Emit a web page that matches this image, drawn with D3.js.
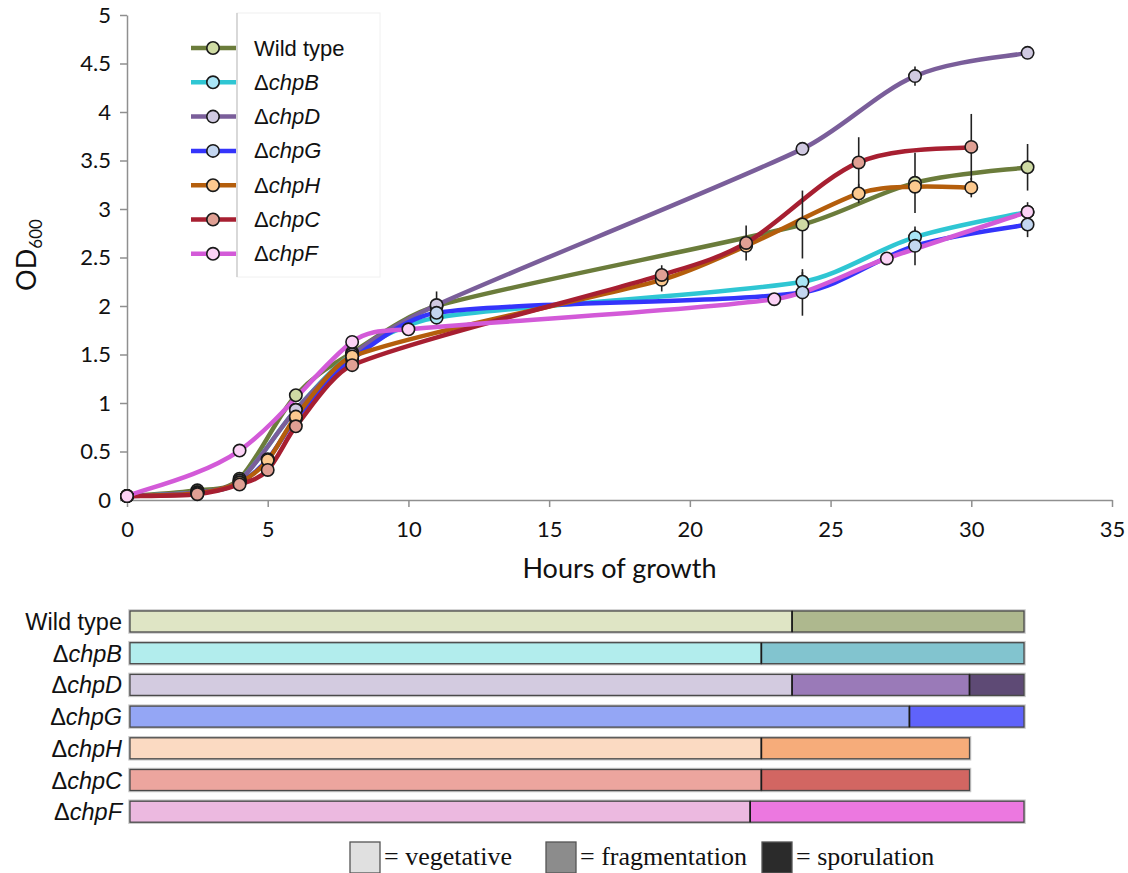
<!DOCTYPE html>
<html><head><meta charset="utf-8">
<script src="https://cdn.jsdelivr.net/npm/d3@7"></script>
<style>body{margin:0;background:#fff} svg{display:block}</style>
</head><body>
<svg id="chart" width="1128" height="873"></svg>
<script>
// Strain names (legend order = drawing order)
const strains = ["Wild type", "ΔchpB", "ΔchpD", "ΔchpG", "ΔchpH", "ΔchpC", "ΔchpF"];

// Growth curves: hours, OD600 and error (0 = no bar)
const hoursWT = [0, 2.5, 4, 6, 8, 11, 24, 28, 32];
const odWT    = [0.04, 0.10, 0.22, 1.08, 1.52, 2.00, 2.84, 3.27, 3.43];
const errWT   = [0, 0, 0, 0, 0, 0, 0.35, 0.31, 0.24];

const hoursB = [0, 2.5, 4, 6, 8, 11, 24, 28, 32];
const odB    = [0.04, 0.08, 0.20, 0.93, 1.50, 1.88, 2.25, 2.71, 2.97];
const errB   = [0, 0, 0, 0, 0, 0, 0.10, 0.08, 0.05];

const hoursD = [0, 2.5, 4, 6, 8, 11, 24, 28, 32];
const odD    = [0.04, 0.08, 0.20, 0.93, 1.50, 2.01, 3.62, 4.37, 4.61];
const errD   = [0, 0, 0, 0, 0, 0.14, 0.03, 0.10, 0.03];

const hoursG = [0, 2.5, 4, 5, 6, 8, 11, 24, 28, 32];
const odG    = [0.04, 0.07, 0.18, 0.42, 0.84, 1.45, 1.93, 2.14, 2.62, 2.84];
const errG   = [0, 0, 0, 0, 0, 0, 0, 0.24, 0.20, 0.13];

const hoursH = [0, 2.5, 4, 5, 6, 8, 19, 22, 26, 28, 30];
const odH    = [0.04, 0.07, 0.18, 0.41, 0.86, 1.48, 2.27, 2.62, 3.16, 3.23, 3.22];
const errH   = [0, 0, 0, 0, 0, 0, 0.12, 0, 0.10, 0, 0.10];

const hoursC = [0, 2.5, 4, 5, 6, 8, 19, 22, 26, 30];
const odC    = [0.04, 0.06, 0.16, 0.31, 0.76, 1.39, 2.32, 2.65, 3.48, 3.64];
const errC   = [0, 0, 0, 0, 0, 0, 0.10, 0.18, 0.26, 0.34];

const hoursF = [0, 4, 8, 10, 23, 27, 32];
const odF    = [0.04, 0.51, 1.63, 1.76, 2.07, 2.49, 2.97];
const errF   = [0, 0, 0.05, 0, 0, 0.06, 0.10];

// Axis ticks
const xTicks = [0, 5, 10, 15, 20, 25, 30, 35];
const yTicks = [0, 0.5, 1, 1.5, 2, 2.5, 3, 3.5, 4, 4.5, 5];

// Developmental phases (hours at which each phase ends)
const vegetativeEnd    = [23.7, 22.6, 23.7, 27.9, 22.6, 22.6, 22.2];
const fragmentationEnd = [32, 32, 30.05, 32, 30.05, 30.05, 32];
const sporulationEnd   = [null, null, 32, null, null, null, null];
const phaseNames = ["= vegetative", "= fragmentation", "= sporulation"];

// Styling
const lineColors   = ["#6b7c3b", "#2fc6d3", "#7a5e9a", "#3434fb", "#b45e0c", "#a71f31", "#d35ad8"];
const markerColors = ["#cfdba4", "#a9e5f6", "#d0c9e1", "#c3d6f0", "#fcc98f", "#e0a094", "#fcd3f6"];
const vegColors    = ["#dfe5c5", "#b2eded", "#d3cbe0", "#94a6f5", "#fbdac2", "#eca59e", "#ecb9e0"];
const fragColors   = ["#aeb88e", "#82c4cf", "#9a7ab8", "#5f63fb", "#f6ac7a", "#d26662", "#ec78e0"];
const sporColors   = [null, null, "#5e4a75", null, null, null, null];
const phaseKeyColors = ["#e0e0e0", "#8c8c8c", "#2b2b2b"];

const seriesHours = [hoursWT, hoursB, hoursD, hoursG, hoursH, hoursC, hoursF];
const seriesOD    = [odWT, odB, odD, odG, odH, odC, odF];
const seriesErr   = [errWT, errB, errD, errG, errH, errC, errF];

const series = strains.map((name, i) => ({
  name, i,
  pts: seriesHours[i].map((h, k) => ({h, v: seriesOD[i][k], e: seriesErr[i][k]}))
}));

const svg = d3.select("#chart");
const axisFont = "Lato, 'Open Sans', sans-serif";
const sansFont = "'Liberation Sans', Arial, sans-serif";

const x = d3.scaleLinear().domain([0, 35]).range([127, 1112]);
const y = d3.scaleLinear().domain([0, 5]).range([500, 15]);

// Axes
const xAxis = svg.append("g").attr("transform", `translate(0,${y(0)})`)
  .call(d3.axisBottom(x).tickValues(xTicks).tickSize(7).tickPadding(14).tickSizeOuter(0));
const yAxis = svg.append("g").attr("transform", `translate(${x(0)},0)`)
  .call(d3.axisLeft(y).tickValues(yTicks).tickSize(7).tickPadding(9).tickSizeOuter(0)
    .tickFormat(d => String(d)));
[xAxis, yAxis].forEach(g => {
  g.selectAll("path,line").attr("stroke", "#8f8f8f").attr("stroke-width", 1.5);
  g.selectAll("text").attr("font-family", axisFont).attr("font-size", 22).attr("fill", "#111");
});

svg.append("text").attr("x", (x(0) + x(35)) / 2).attr("y", 578)
  .attr("text-anchor", "middle").attr("font-family", axisFont).attr("font-size", 27)
  .attr("fill", "#111").text("Hours of growth");

const yt = svg.append("text").attr("transform", "translate(36,255) rotate(-90)")
  .attr("text-anchor", "middle").attr("font-family", axisFont).attr("font-size", 27).attr("fill", "#111");
yt.append("tspan").text("OD");
yt.append("tspan").attr("font-size", 17).attr("dy", 6).text("600");

// Smoothed line: Catmull-Rom style tangents, with control handles kept
// inside each segment's horizontal span so uneven sampling never loops.
function smoothPath(pts) {
  const P = pts.map(p => [x(p.h), y(p.v)]);
  const n = P.length;
  const tan = P.map((p, i) => {
    const a = P[Math.max(i - 1, 0)], b = P[Math.min(i + 1, n - 1)];
    return [(b[0] - a[0]) / 6, (b[1] - a[1]) / 6];
  });
  const path = d3.path();
  path.moveTo(P[0][0], P[0][1]);
  for (let i = 0; i < n - 1; i++) {
    const lim = (P[i + 1][0] - P[i][0]) / 3;
    const s1 = Math.min(1, lim / Math.max(Math.abs(tan[i][0]), 1e-9));
    const s2 = Math.min(1, lim / Math.max(Math.abs(tan[i + 1][0]), 1e-9));
    path.bezierCurveTo(
      P[i][0] + tan[i][0] * s1, P[i][1] + tan[i][1] * s1,
      P[i + 1][0] - tan[i + 1][0] * s2, P[i + 1][1] - tan[i + 1][1] * s2,
      P[i + 1][0], P[i + 1][1]);
  }
  return path.toString();
}

// Growth curves
const plot = svg.append("g");
series.forEach(s => {
  plot.append("path").attr("d", smoothPath(s.pts)).attr("fill", "none")
    .attr("stroke", lineColors[s.i]).attr("stroke-width", 4.5).attr("stroke-linecap", "round");
});
series.forEach(s => {
  plot.selectAll(null).data(s.pts.filter(p => p.e > 0)).join("line")
    .attr("x1", d => x(d.h)).attr("x2", d => x(d.h))
    .attr("y1", d => y(d.v + d.e)).attr("y2", d => y(d.v - d.e))
    .attr("stroke", "#222").attr("stroke-width", 1.6);
});
series.forEach(s => {
  plot.selectAll(null).data(s.pts).join("circle")
    .attr("cx", d => x(d.h)).attr("cy", d => y(d.v)).attr("r", 6.2)
    .attr("fill", markerColors[s.i]).attr("stroke", "#1a1a1a").attr("stroke-width", 1.6);
});

function addName(t, name) {
  if (name.startsWith("Δ")) {
    t.append("tspan").text("Δ");
    t.append("tspan").attr("font-style", "italic").text(name.slice(1));
  } else t.text(name);
}

// Legend of the growth curves
const leg = svg.append("g");
leg.append("rect").attr("x", 237).attr("y", 13).attr("width", 143).attr("height", 264)
  .attr("fill", "#fff").attr("stroke", "#f0f0f0");
leg.append("line").attr("x1", 237).attr("x2", 237).attr("y1", 13).attr("y2", 277)
  .attr("stroke", "#c4c4c4").attr("stroke-width", 1.2);
strains.forEach((name, i) => {
  const yy = 48 + i * 34.3;
  leg.append("line").attr("x1", 191).attr("x2", 236).attr("y1", yy).attr("y2", yy)
    .attr("stroke", lineColors[i]).attr("stroke-width", 4.5);
  leg.append("circle").attr("cx", 213).attr("cy", yy).attr("r", 6.2)
    .attr("fill", markerColors[i]).attr("stroke", "#1a1a1a").attr("stroke-width", 1.6);
  const t = leg.append("text").attr("x", 254).attr("y", yy + 7.5)
    .attr("font-family", sansFont).attr("font-size", 22).attr("fill", "#111");
  addName(t, name);
});

// Developmental phase bars
const xb = d3.scaleLinear().domain([0, 32]).range([130, 1024]);
const bars = svg.append("g");
strains.forEach((name, i) => {
  const top = 611 + i * 31.7, h = 21;
  const segs = [[0, vegetativeEnd[i], vegColors[i]], [vegetativeEnd[i], fragmentationEnd[i], fragColors[i]]];
  if (sporulationEnd[i] != null) segs.push([fragmentationEnd[i], sporulationEnd[i], sporColors[i]]);
  const end = segs[segs.length - 1][1];
  bars.append("rect").attr("x", xb(0)).attr("y", top).attr("width", xb(end) - xb(0)).attr("height", h)
    .attr("fill", "none").attr("stroke", "#c8c8c8").attr("stroke-width", 3.5);
  segs.forEach(([a, b, c]) => {
    bars.append("rect").attr("x", xb(a)).attr("y", top).attr("width", xb(b) - xb(a)).attr("height", h)
      .attr("fill", c).attr("stroke", "#4a4a4a").attr("stroke-width", 1.3);
  });
  segs.slice(1).forEach(([a]) => {
    bars.append("line").attr("x1", xb(a)).attr("x2", xb(a)).attr("y1", top).attr("y2", top + h)
      .attr("stroke", "#1a1a1a").attr("stroke-width", 1.6);
  });
  const t = bars.append("text").attr("x", 122).attr("y", top + h / 2 + 8.5)
    .attr("text-anchor", "end").attr("font-family", sansFont).attr("font-size", 23.5).attr("fill", "#111");
  addName(t, name);
});

// Phase key
const keyX = [350, 546, 762];
phaseNames.forEach((p, k) => {
  svg.append("rect").attr("x", keyX[k]).attr("y", 842).attr("width", 30).attr("height", 31)
    .attr("fill", phaseKeyColors[k]).attr("stroke", "#555").attr("stroke-width", 1.3);
  svg.append("text").attr("x", keyX[k] + 34).attr("y", 865)
    .attr("font-family", "'Liberation Serif', 'Times New Roman', serif").attr("font-size", 26)
    .attr("fill", "#111").text(p);
});
</script>
</body></html>
